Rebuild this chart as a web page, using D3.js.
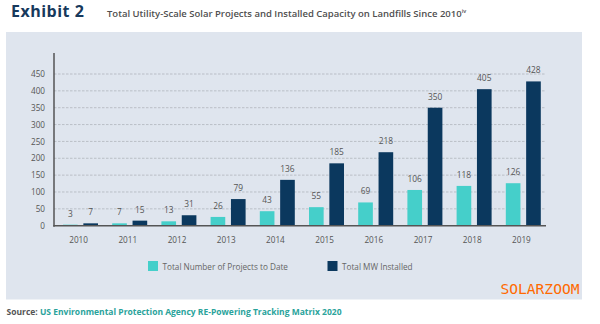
<!DOCTYPE html>
<html>
<head>
<meta charset="utf-8">
<script src="https://cdn.jsdelivr.net/npm/d3@7"></script>
<style>
  html, body { margin: 0; padding: 0; background: #ffffff; }
  svg { display: block; }
</style>
</head>
<body>
<svg id="chart" width="600" height="324"></svg>
<script>
// Cumulative landfill solar data, 2010–2019
const years = ["2010", "2011", "2012", "2013", "2014", "2015", "2016", "2017", "2018", "2019"];
const projects = [3, 7, 13, 26, 43, 55, 69, 106, 118, 126];
const megawatts = [7, 15, 31, 79, 136, 185, 218, 350, 405, 428];
const yTicks = [0, 50, 100, 150, 200, 250, 300, 350, 400, 450];
const seriesNames = ["Total Number of Projects to Date", "Total MW Installed"];
const seriesColors = ["#45cfca", "#0b385e"];

const svg = d3.select("#chart");
const font = "'Open Sans', 'Noto Sans', sans-serif";

// Title row
svg.append("text")
  .attr("x", 11).attr("y", 17)
  .attr("font-family", "'Open Sans', sans-serif")
  .attr("font-weight", 700).attr("font-size", 16)
  .attr("letter-spacing", 0.5)
  .attr("fill", "#17395c")
  .text("Exhibit 2");

const sub = svg.append("text")
  .attr("x", 107).attr("y", 16.5)
  .attr("font-family", font)
  .attr("font-weight", 600).attr("font-size", 9.5)
  .attr("fill", "#4f4f4f")
  .text("Total Utility-Scale Solar Projects and Installed Capacity on Landfills Since 2010");
sub.append("tspan").attr("dy", -4).attr("font-size", 5.5).text("iv");

// Panel background
svg.append("rect")
  .attr("x", 6).attr("y", 32).attr("width", 576).attr("height", 267.5)
  .attr("fill", "#dfe5ee");

// Scales
const x0 = d3.scaleBand().domain(years).range([54, 546]).padding(0);
const x1 = d3.scaleBand().domain([0, 1]).range([9, 44]).paddingInner(0.28);
const y = d3.scaleLinear().domain([0, 450]).range([225.7, 74]);

// Gridlines
const grid = svg.append("g");
grid.selectAll("line").data(yTicks.filter(d => d > 0)).join("line")
  .attr("x1", 54).attr("x2", 546)
  .attr("y1", d => y(d)).attr("y2", d => y(d))
  .attr("stroke", "#a9adb4").attr("stroke-width", 0.7)
  .attr("stroke-dasharray", "2.5,1.5");

// Y axis labels
const yAxis = d3.axisLeft(y).tickValues(yTicks).tickSize(0).tickPadding(9);
const yG = svg.append("g").attr("transform", "translate(54,0)").call(yAxis);
yG.select(".domain").remove();
yG.selectAll("text")
  .attr("font-family", font).attr("font-size", 8.2).attr("fill", "#555");

// Bars
const groups = svg.append("g").selectAll("g").data(years).join("g")
  .attr("transform", d => `translate(${x0(d)},0)`);

const seriesVals = [projects, megawatts];
groups.each(function (yr, i) {
  const g = d3.select(this);
  [0, 1].forEach(s => {
    const v = seriesVals[s][i];
    g.append("rect")
      .attr("x", x1(s)).attr("width", x1.bandwidth())
      .attr("y", y(v)).attr("height", y(0) - y(v))
      .attr("fill", seriesColors[s]);
    g.append("text")
      .attr("x", x1(s) + x1.bandwidth() / 2)
      .attr("y", y(v) - 8)
      .attr("text-anchor", "middle")
      .attr("font-family", font).attr("font-size", 8.4).attr("fill", "#555")
      .text(v);
  });
});

// Axis lines
svg.append("line")
  .attr("x1", 54).attr("x2", 54).attr("y1", 53).attr("y2", y(0) + 1)
  .attr("stroke", "#4a4a4a").attr("stroke-width", 1.4);
svg.append("line")
  .attr("x1", 53.3).attr("x2", 546).attr("y1", y(0)).attr("y2", y(0))
  .attr("stroke", "#555").attr("stroke-width", 1.6);

// X axis labels
const xAxis = d3.axisBottom(x0).tickSize(0).tickPadding(11);
const xG = svg.append("g").attr("transform", `translate(0,${y(0)})`).call(xAxis);
xG.select(".domain").remove();
xG.selectAll("text")
  .attr("font-family", font).attr("font-size", 8.2).attr("fill", "#555");

// Legend
const legendX = [148, 327.5];
const legend = svg.append("g").selectAll("g").data(seriesNames).join("g")
  .attr("transform", (d, i) => `translate(${legendX[i]},261)`);
legend.append("rect")
  .attr("width", 10).attr("height", 10)
  .attr("fill", (d, i) => seriesColors[i]);
legend.append("text")
  .attr("x", 14.5).attr("y", 8.5)
  .attr("font-family", font).attr("font-size", 8.2).attr("fill", "#666")
  .text(d => d);

// Watermark
svg.append("text")
  .attr("x", 579.5).attr("y", 294)
  .attr("text-anchor", "end")
  .attr("font-family", "'DejaVu Sans Mono', monospace")
  .attr("font-size", 14.6).attr("fill", "#ff6a00")
  .text("SOLARZOOM");

// Source line
const src = svg.append("text")
  .attr("x", 6.5).attr("y", 315.3)
  .attr("font-family", font).attr("font-weight", 700).attr("font-size", 8.5)
  .attr("fill", "#555")
  .text("Source: ");
src.append("tspan").attr("fill", "#2aa39b")
  .text("US Environmental Protection Agency RE-Powering Tracking Matrix 2020");
</script>
</body>
</html>
